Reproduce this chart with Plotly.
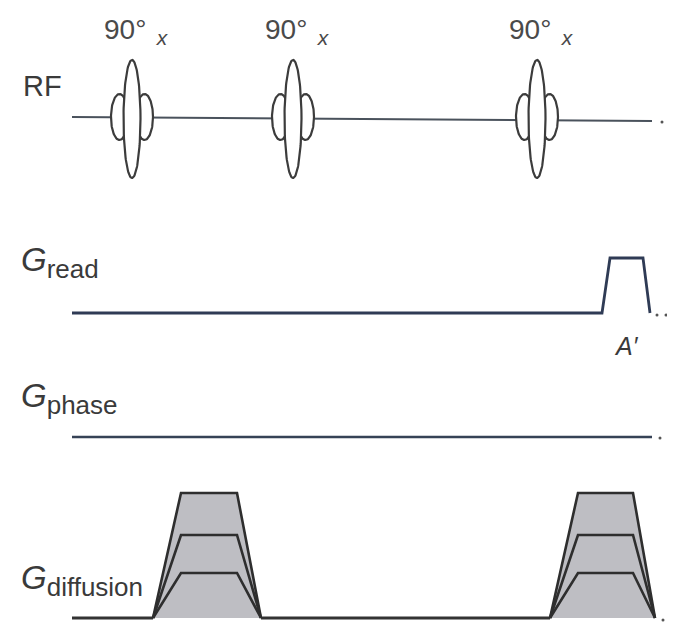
import numpy as np
import plotly.graph_objects as go

# ---------------- data (time axis units / amplitude units) ----------------
seq_start = 72
seq_end = 652

# RF: three 90° pulses
rf_pulse_times = [132, 293, 537]
rf_flip_angles = ["90°", "90°", "90°"]
rf_pulse_phases = ["x", "x", "x"]

# Read gradient: a single trapezoid at the end (A')
read_grad_times = [602, 610, 643, 650]
read_grad_amps = [0, 55, 55, 0]
read_grad_label = "A′"

# Phase gradient: nothing played
phase_grad_times = [seq_start, seq_end]
phase_grad_amps = [0, 0]

# Diffusion gradient: two trapezoid lobes, three amplitude steps
diff_lobe_times = [[153, 181, 237, 261], [550, 578, 633, 655]]
diff_amp_steps = [125, 83, 45]

gradient_channels = ["read", "phase", "diffusion"]

# ---------------- layout constants ----------------
W, H = 675, 629
PAD = 8  # page body margin
baseline = {"RF": 119, "read": 313, "phase": 437, "diffusion": 618}
main_lobe = (8.5, 59)      # half-width, half-height
side_lobe = (8.5, 23)
side_offset = 12.5

outline = "#2e2e2e"
text_col = "#3a3a3a"
fill_col = "rgb(190,190,195)"

fig = go.Figure()

def add_line(x, y, color, width):
    fig.add_trace(go.Scatter(x=x, y=y, mode="lines",
                             line=dict(color=color, width=width),
                             hoverinfo="skip", showlegend=False))

def add_ellipse(cx, cy, a, b):
    th = np.linspace(0, 2 * np.pi, 120)
    fig.add_trace(go.Scatter(x=cx + a * np.cos(th), y=cy + b * np.sin(th),
                             mode="lines", fill="toself", fillcolor="white",
                             line=dict(color="#3c3c3c", width=2.2),
                             hoverinfo="skip", showlegend=False))

def add_dots(x0, y, n=2, gap=9):
    fig.add_trace(go.Scatter(x=[x0 + i * gap for i in range(n)], y=[y] * n,
                             mode="markers", marker=dict(color="#555", size=3),
                             hoverinfo="skip", showlegend=False))

# ---- RF ----
yb = baseline["RF"]
add_line([seq_start, seq_end], [yb - 2, yb + 2], "#4a525c", 2)
for t in rf_pulse_times:
    add_ellipse(t - side_offset, yb - 2, *side_lobe)
    add_ellipse(t + side_offset, yb - 2, *side_lobe)
    add_ellipse(t, yb, *main_lobe)
add_dots(662, yb + 3, n=1)

# ---- Read ----
yb = baseline["read"]
xr = [seq_start] + read_grad_times
yr = [yb] + [yb - a for a in read_grad_amps]
add_line(xr, yr, "#2f3b55", 2.8)
add_dots(657, yb + 2)

# ---- Phase ----
yb = baseline["phase"]
add_line(phase_grad_times, [yb - a for a in phase_grad_amps], "#364256", 2.6)
add_dots(660, yb + 1)

# ---- Diffusion ----
yb = baseline["diffusion"]
lobe_starts = [t[0] for t in diff_lobe_times]
lobe_ends = [t[3] for t in diff_lobe_times]
add_line([seq_start, lobe_starts[0]], [yb, yb], "#333", 2.8)
add_line([lobe_ends[0], lobe_starts[1]], [yb, yb], "#333", 2.8)
for times in diff_lobe_times:
    amax = max(diff_amp_steps)
    fig.add_trace(go.Scatter(x=times, y=[yb, yb - amax, yb - amax, yb],
                             mode="lines", fill="toself", fillcolor=fill_col,
                             line=dict(color=outline, width=2.6),
                             hoverinfo="skip", showlegend=False))
    for a in diff_amp_steps[1:]:
        add_line(times, [yb, yb - a, yb - a, yb], outline, 2.6)
add_dots(663, yb + 2, n=1)

# ---------------- text ----------------
font = "Liberation Sans, Arial, sans-serif"
ann = []
ann.append(dict(x=21, y=86, text="RF", xanchor="left", yanchor="middle",
                font=dict(size=29, color=text_col, family=font)))
for t, ang, ph in zip(rf_pulse_times, rf_flip_angles, rf_pulse_phases):
    ann.append(dict(x=t - 30, y=31,
                    text=f"{ang}<sub><span style='font-size:21px'>&#8194;<i>{ph}</i></span></sub>",
                    xanchor="left", yanchor="middle",
                    font=dict(size=28, color="#4a4a4a", family=font)))
G_center = {"read": 262, "phase": 398, "diffusion": 580}
for ch in gradient_channels:
    ann.append(dict(x=19, y=G_center[ch],
                    text=f"<i>G</i><sub><span style='font-size:26px'>{ch}</span></sub>",
                    xanchor="left", yanchor="middle",
                    font=dict(size=33, color=text_col, family=font)))
ann.append(dict(x=626, y=346, text=f"<i>{read_grad_label}</i>",
                xanchor="center", yanchor="middle",
                font=dict(size=25, color=text_col, family=font)))
for a in ann:
    a.update(xref="x", yref="y", showarrow=False)

fig.update_layout(
    width=W - PAD, height=H - PAD,
    margin=dict(l=0, r=0, t=0, b=0),
    paper_bgcolor="white", plot_bgcolor="white",
    xaxis=dict(range=[PAD, W], visible=False, fixedrange=True),
    yaxis=dict(range=[H, PAD], visible=False, fixedrange=True),
    annotations=ann,
    showlegend=False,
)

fig.write_html("out.html")
